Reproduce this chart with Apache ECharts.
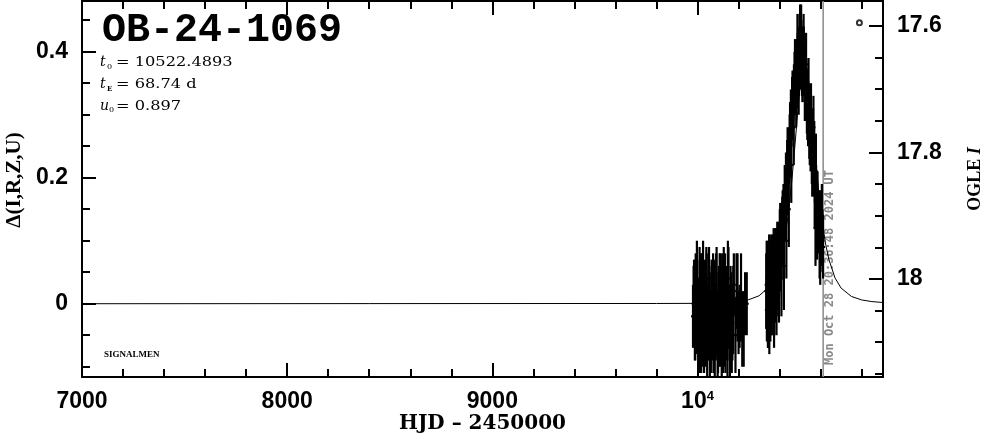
<!DOCTYPE html>
<html><head><meta charset="utf-8">
<script src="https://cdn.jsdelivr.net/npm/echarts@6/dist/echarts.min.js"></script>
<style>html,body{margin:0;padding:0;background:#fff}#c{width:986px;height:434px}</style>
</head><body><div id="c"></div>
<script>
// ---- Data ----
const eventName = 'OB-24-1069';
const paramT0 = '10522.4893';
const paramTE = '68.74 d';
const paramU0 = '0.897';
const nowHJD = 10612.36;           // Mon Oct 28 20:36:48 2024 UT
const nowLabel = 'Mon Oct 28 20:36:48 2024 UT';

const xRange = [7000, 10904];
const yRange = [-0.1163, 0.4805];   // Δ(I,R,Z,U)
const magRange = [17.5605, 18.155]; // OGLE I (inverted)

const xMajor = [7000, 8000, 9000, 10000];
const xMinor = [7200,7400,7600,7800,8200,8400,8600,8800,9200,9400,9600,9800,10200,10400,10600,10800];
const yMajor = [0, 0.2, 0.4];
const yMinor = [-0.1,-0.05,0.05,0.1,0.15,0.25,0.3,0.35,0.45];
const magMajor = [17.6, 17.8, 18.0];
const magMinor = [17.65,17.7,17.75,17.85,17.9,17.95,18.05,18.1,18.15];

// model light curve (HJD, Δ)
const modelT = [7000,9800,10000,10100,10200,10250,10300,10350,10380,10400,10415,10430,10445,10460,10475,10490,10505,10522,10535,10550,10565,10580,10595,10610,10625,10640,10670,10700,10750,10800,10850,10904];
const modelD = [0.0000,0.0004,0.0006,0.0015,0.0036,0.0065,0.0126,0.0269,0.0449,0.0644,0.0851,0.113,0.1495,0.1965,0.252,0.311,0.361,0.3857,0.373,0.3296,0.272,0.214,0.164,0.124,0.0935,0.0706,0.041,0.0247,0.0116,0.006,0.0034,0.0019];

// first season of data
const c1T = [9978,9983,9987,9991,9995,9999,10003,10007,10010,10014,
  10018,10021,10025,10029,10032,10036,10040,10043,10047,10051,
  10054,10058,10062,10065,10069,10073,10076,10080,10084,10087,
  10091,10095,10098,10102,10106,10110,10114,10118,10122,10126,
  10130,10134,10138,10143,10148,10153,10158,10164,10170,10177,
  10185,10195,10205,10218,10232];
const c1D = [-0.02,0.01,-0.05,0.03,-0.01,0.02,-0.04,0.00,0.04,-0.03,
  -0.06,0.01,0.03,-0.02,-0.05,0.02,-0.01,0.04,-0.07,-0.03,
  0.00,0.02,-0.04,-0.06,0.01,-0.02,0.03,-0.05,-0.08,-0.01,
  0.02,-0.03,-0.06,0.00,-0.04,0.03,-0.02,-0.07,0.01,-0.03,
  -0.05,0.02,-0.01,-0.04,0.04,-0.02,-0.06,0.00,-0.03,0.03,
  -0.05,0.01,-0.02,-0.04,0.00];
const c1E = [0.05,0.06,0.04,0.05,0.07,0.05,0.06,0.04,0.05,0.06,
  0.05,0.07,0.05,0.04,0.06,0.05,0.07,0.05,0.05,0.06,
  0.04,0.05,0.06,0.05,0.05,0.07,0.05,0.06,0.05,0.04,
  0.06,0.05,0.07,0.05,0.06,0.05,0.04,0.06,0.05,0.07,
  0.05,0.06,0.05,0.05,0.06,0.05,0.07,0.05,0.06,0.05,
  0.06,0.07,0.05,0.06,0.05];
const c1bT = [9981,9989,9997,10005,10012,10016,10023,10027,10034,10038,
  10045,10049,10056,10060,10067,10071,10078,10082,10089,10093,
  10100,10104,10108,10112,10116,10120,10124,10128,10132,10136,
  10141,10146,10151,10156,10161,10167,10174,10190,10200,10212,
  10225,10240];
const c1bD = [0.00,-0.04,0.03,-0.02,-0.06,0.02,-0.03,0.05,-0.01,-0.05,
  0.01,-0.03,0.04,-0.07,-0.02,0.02,-0.05,0.00,-0.04,0.03,
  -0.06,-0.01,0.02,-0.05,-0.03,0.01,-0.06,0.03,-0.02,-0.04,
  0.00,-0.07,0.02,-0.03,0.01,-0.05,-0.01,0.02,-0.03,0.01,
  -0.04,0.00];
const c1bE = [0.06,0.05,0.07,0.06,0.05,0.06,0.07,0.05,0.06,0.05,
  0.07,0.06,0.05,0.06,0.07,0.05,0.06,0.07,0.05,0.06,
  0.05,0.07,0.06,0.05,0.06,0.07,0.05,0.06,0.05,0.07,
  0.06,0.05,0.07,0.06,0.05,0.06,0.07,0.06,0.05,0.07,
  0.06,0.05];

// second season (the event)
const c2T = [10335,10338,10341,10344,10347,10350,10353,10356,10359,10362,
  10365,10368,10371,10374,10377,10380,10383,10386,10389,10392,
  10395,10398,10401,10404,10407,10410,10413,10416,10419,10422,
  10425,10428,10431,10434,10437,10440,10443,10446,10449,10452,
  10455,10458,10461,10464,10467,10470,10473,10476,10479,10482,
  10485,10488,10491,10494,10497,10500,10503,10506,10509,10512,
  10515,10518,10521,10524,10527,10530,10533,10536,10539,10542,
  10545,10548,10551,10554,10557,10560,10563,10566,10569,10572,
  10575,10578,10581,10585,10590,10598,10606,10612];
const c2D = [0.02,-0.01,0.04,0.00,0.03,-0.02,0.05,0.01,0.04,0.00,
  0.04,0.02,0.05,0.01,0.06,0.03,0.07,0.04,0.08,0.05,
  0.08,0.06,0.10,0.07,0.12,0.09,0.13,0.11,0.15,0.14,
  0.18,0.16,0.20,0.19,0.22,0.21,0.24,0.23,0.26,0.25,
  0.30,0.29,0.32,0.31,0.33,0.34,0.36,0.35,0.37,0.38,
  0.36,0.39,0.40,0.38,0.41,0.42,0.39,0.41,0.38,0.40,
  0.37,0.39,0.36,0.37,0.34,0.35,0.32,0.33,0.30,0.31,
  0.28,0.29,0.26,0.27,0.24,0.25,0.26,0.23,0.24,0.21,
  0.12,0.17,0.15,0.16,0.13,0.10,0.14,0.09];
const c2E = [0.06,0.05,0.06,0.07,0.05,0.06,0.05,0.06,0.07,0.05,
  0.06,0.05,0.07,0.06,0.05,0.06,0.05,0.06,0.05,0.06,
  0.05,0.05,0.05,0.05,0.04,0.05,0.04,0.05,0.04,0.04,
  0.04,0.05,0.04,0.04,0.04,0.05,0.04,0.04,0.04,0.05,
  0.04,0.04,0.04,0.05,0.04,0.04,0.04,0.05,0.04,0.04,
  0.05,0.04,0.04,0.05,0.05,0.055,0.04,0.04,0.05,0.04,
  0.04,0.05,0.04,0.04,0.05,0.04,0.05,0.04,0.05,0.04,
  0.05,0.04,0.05,0.04,0.05,0.05,0.05,0.06,0.05,0.05,
  0.06,0.05,0.06,0.05,0.05,0.07,0.05,0.05];
const c2bT = [10337,10343,10349,10355,10361,10367,10373,10379,10385,10391,
  10397,10403,10409,10415,10421,10427,10433,10439,10445,10451,
  10457,10463,10469,10475,10481,10487,10493,10499,10505,10511,
  10517,10523,10529,10535,10541,10547,10553,10559,10565,10571,
  10577,10583,10595,10603,10609];
const c2bD = [0.03,-0.01,0.04,0.00,0.02,0.05,0.00,0.06,0.02,0.07,
  0.03,0.09,0.04,0.12,0.06,0.16,0.10,0.21,0.15,0.27,
  0.22,0.32,0.28,0.37,0.33,0.41,0.36,0.39,0.43,0.37,
  0.41,0.34,0.38,0.31,0.34,0.27,0.30,0.22,0.28,0.18,
  0.21,0.13,0.11,0.12,0.10];
const c2bE = [0.07,0.06,0.07,0.06,0.07,0.06,0.07,0.06,0.07,0.06,
  0.06,0.07,0.06,0.06,0.07,0.06,0.06,0.07,0.06,0.05,
  0.06,0.05,0.06,0.05,0.05,0.05,0.06,0.05,0.045,0.05,
  0.05,0.05,0.05,0.05,0.05,0.05,0.05,0.05,0.05,0.06,
  0.06,0.06,0.07,0.06,0.05];

// small circle marker at top right
const markerPt = [[10789, 0.446]];

// ---- Chart ----
const chart = echarts.init(document.getElementById('c'), null, {renderer: 'canvas'});
const LBL = '"Liberation Sans", Arial, sans-serif';

function xAx(pos, vals, len, labels) {
  return {
    type: 'value', position: pos, min: xRange[0], max: xRange[1],
    axisLine: {show: true, onZero: false, lineStyle: {color: '#000', width: 2}},
    axisTick: {show: true, inside: true, length: len, customValues: vals, lineStyle: {color: '#000', width: 2}},
    axisLabel: labels ? {
      show: true, customValues: xMajor, margin: 13, color: '#000',
      fontFamily: LBL, fontWeight: 'bold', fontSize: 23,
      formatter: v => v === 10000 ? '{a|10}{b|4}' : String(v),
      rich: {a: {fontFamily: LBL, fontWeight: 'bold', fontSize: 23, color: '#000'},
             b: {fontFamily: LBL, fontWeight: 'bold', fontSize: 13, color: '#000', verticalAlign: 'top', padding: [0,0,10,0]}}
    } : {show: false},
    splitLine: {show: false}
  };
}
function yAx(pos, rng, inv, vals, len, labelVals, fmt) {
  return {
    type: 'value', position: pos, min: rng[0], max: rng[1], inverse: inv,
    axisLine: {show: true, onZero: false, lineStyle: {color: '#000', width: 2}},
    axisTick: {show: true, inside: true, length: len, customValues: vals, lineStyle: {color: '#000', width: 2}},
    axisLabel: labelVals ? {
      show: true, customValues: labelVals, margin: 14, color: '#000',
      fontFamily: LBL, fontWeight: 'bold', fontSize: 23, formatter: fmt
    } : {show: false},
    splitLine: {show: false}
  };
}

const errData = []
  .concat(c1T.map((t, i) => [t, c1D[i], c1E[i]]))
  .concat(c1bT.map((t, i) => [t, c1bD[i], c1bE[i]]))
  .concat(c2T.map((t, i) => [t, c2D[i], c2E[i]]))
  .concat(c2bT.map((t, i) => [t, c2bD[i], c2bE[i]]));

const option = {
  backgroundColor: '#fff',
  animation: false,
  grid: {left: 82, right: 103, top: 1, bottom: 57, containLabel: false, outerBoundsMode: 'none'},
  xAxis: [
    Object.assign(xAx('bottom', xMajor, 14, true), {
      name: 'HJD – 2450000', nameLocation: 'middle', nameGap: 37, nameMoveOverlap: false,
      nameTextStyle: {fontFamily: '"DejaVu Serif", serif', fontWeight: 'bold', fontSize: 20, color: '#000'}
    }),
    xAx('bottom', xMinor, 8, false),
    xAx('top', xMajor, 14, false),
    xAx('top', xMinor, 8, false)
  ],
  yAxis: [
    yAx('left', yRange, false, yMajor, 14, yMajor, v => v === 0 ? '0' : v.toFixed(1)),
    yAx('left', yRange, false, yMinor, 8, null),
    yAx('right', magRange, true, magMajor, 14, magMajor, v => (Math.abs(v - 18) < 1e-6 ? '18' : v.toFixed(1))),
    yAx('right', magRange, true, magMinor, 8, null)
  ],
  series: [
    {
      name: 'model', type: 'line', xAxisIndex: 0, yAxisIndex: 0,
      data: modelT.map((t, i) => [t, modelD[i]]),
      showSymbol: false, symbol: 'none', lineStyle: {color: '#000', width: 1}, z: 2, silent: true
    },
    {
      name: 'now', type: 'line', xAxisIndex: 0, yAxisIndex: 0,
      data: [[nowHJD, yRange[0]], [nowHJD, yRange[1]]],
      showSymbol: false, symbol: 'none', lineStyle: {color: '#8a8a8a', width: 1.5}, z: 1, silent: true
    },
    {
      name: 'data', type: 'custom', xAxisIndex: 0, yAxisIndex: 0, clip: true, z: 3,
      data: errData,
      encode: {x: 0, y: 1},
      renderItem: (params, api) => {
        const x = api.value(0), y = api.value(1), e = api.value(2);
        const a = api.coord([x, y + e]), b = api.coord([x, y - e]), c = api.coord([x, y]);
        return {type: 'group', children: [
          {type: 'line', shape: {x1: a[0], y1: a[1], x2: b[0], y2: b[1]}, style: {stroke: '#000', lineWidth: 2.2}},
          {type: 'line', shape: {x1: c[0] - 2, y1: c[1], x2: c[0] + 2, y2: c[1]}, style: {stroke: '#000', lineWidth: 2}}
        ]};
      }
    },
    {
      name: 'marker', type: 'scatter', xAxisIndex: 0, yAxisIndex: 0, data: markerPt,
      symbol: 'emptyCircle', symbolSize: 5, itemStyle: {color: '#000', borderColor: '#000', borderWidth: 1.5}, z: 4
    }
  ],
  graphic: [
    {type: 'text', id: 'title', x: 102, y: 31, style: {text: eventName, font: 'bold 40px "Liberation Mono", monospace', fill: '#000', verticalAlign: 'middle'}},
    {type: 'text', id: 'p1a', x: 100, y: 62, style: {text: 't', font: 'italic 14px "DejaVu Serif", serif', fill: '#000', verticalAlign: 'middle'}},
    {type: 'text', id: 'p1b', x: 107, y: 67, style: {text: '0', font: '8px "DejaVu Serif", serif', fill: '#000', verticalAlign: 'middle'}},
    {type: 'text', id: 'p1c', x: 116, y: 63, scaleX: 1.35, style: {text: '= ' + paramT0, font: '12px "DejaVu Serif", serif', fill: '#000', verticalAlign: 'middle'}},
    {type: 'text', id: 'p2a', x: 100, y: 84, style: {text: 't', font: 'italic 14px "DejaVu Serif", serif', fill: '#000', verticalAlign: 'middle'}},
    {type: 'text', id: 'p2b', x: 107, y: 89, style: {text: 'E', font: 'bold 7px "DejaVu Serif", serif', fill: '#000', verticalAlign: 'middle'}},
    {type: 'text', id: 'p2c', x: 116, y: 85, scaleX: 1.35, style: {text: '= ' + paramTE, font: '12px "DejaVu Serif", serif', fill: '#000', verticalAlign: 'middle'}},
    {type: 'text', id: 'p3a', x: 100, y: 106, style: {text: 'u', font: 'italic 14px "DejaVu Serif", serif', fill: '#000', verticalAlign: 'middle'}},
    {type: 'text', id: 'p3b', x: 109, y: 110, style: {text: '0', font: '8px "DejaVu Serif", serif', fill: '#000', verticalAlign: 'middle'}},
    {type: 'text', id: 'p3c', x: 116, y: 107, scaleX: 1.35, style: {text: '= ' + paramU0, font: '12px "DejaVu Serif", serif', fill: '#000', verticalAlign: 'middle'}},
    {type: 'text', id: 'sig', x: 104, y: 355, style: {text: 'SIGNALMEN', font: 'bold 9px "Liberation Serif", serif', fill: '#000', verticalAlign: 'middle'}},
    {type: 'text', id: 'ylab', x: 15, y: 180, rotation: Math.PI / 2, style: {text: 'Δ(I,R,Z,U)', font: 'bold 21px "Liberation Serif", serif', fill: '#000', align: 'center', verticalAlign: 'middle'}},
    {type: 'text', id: 'rlab', x: 975, y: 179, rotation: Math.PI / 2, style: {
      text: '{n|OGLE }{i|I}', fill: '#000', align: 'center', verticalAlign: 'middle',
      rich: {n: {font: 'bold 18px "Liberation Serif", serif', fill: '#000'}, i: {font: 'italic bold 18px "Liberation Serif", serif', fill: '#000'}}
    }}
  ]
};
chart.setOption(option);

const p = chart.convertToPixel({xAxisIndex: 0, yAxisIndex: 0}, [nowHJD, yRange[0]]);
chart.setOption({graphic: [
  {type: 'text', id: 'now', x: p[0] + 7, y: 365, rotation: Math.PI / 2, style: {text: nowLabel, font: 'bold 12px "DejaVu Sans Mono", monospace', fill: '#8a8a8a', align: 'left', verticalAlign: 'middle'}}
]});
</script>
</body></html>
